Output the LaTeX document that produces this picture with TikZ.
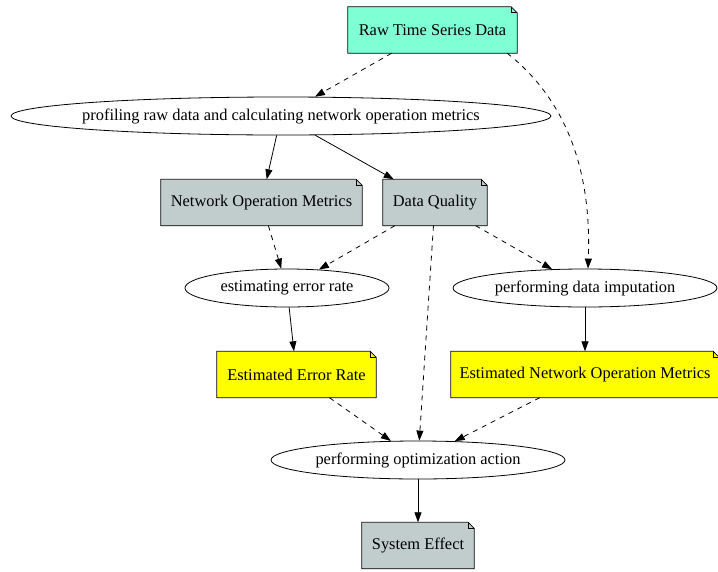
\documentclass[tikz,border=0pt]{standalone}
\usepackage{fontspec}
\setmainfont{Liberation Serif}
\usetikzlibrary{arrows.meta,shapes.geometric}
\definecolor{aqua}{HTML}{7FFFD4}
\definecolor{slate}{HTML}{C1CDCD}
\definecolor{yel}{HTML}{FFFF00}
\newcommand{\ptext}[1]{\makebox[0pt]{#1}}
\begin{document}
\begin{tikzpicture}[x=1pt,y=-1pt,
  every node/.style={font=\fontsize{16.4}{19}\selectfont},
  notebox/.style={rectangle, inner xsep=2pt, minimum height=46pt, inner ysep=0pt},
  proc/.style={ellipse, draw, line width=0.8pt, minimum height=38pt, inner sep=0pt},
  edge/.style={line width=0.8pt, -{Triangle[length=10pt,width=7pt]}},
  dashedge/.style={edge, dash pattern=on 5pt off 5pt}]
\useasboundingbox (0,0) rectangle (718,571);

% document-style nodes (filled boxes with a folded corner)
\node[notebox, fill=aqua,  minimum width=169pt] (raw)  at (432.5,30)    {Raw Time Series Data};
\node[notebox, fill=slate, minimum width=201pt] (nom)  at (261.5,202.5) {Network Operation Metrics};
\node[notebox, fill=slate, minimum width=104pt] (dq)   at (435,202.5)   {Data Quality};
\node[notebox, fill=yel,   minimum width=159pt] (eer)  at (296.5,374.5) {Estimated Error Rate};
\node[notebox, fill=yel,   minimum width=268pt] (enom) at (585,374.5)   {Estimated Network Operation Metrics};
\node[notebox, fill=slate, minimum width=112pt] (se)   at (418,545.5)   {System Effect};

\foreach \n in {raw,nom,dq,eer,enom,se}{
  \fill[white] ([xshift=-6pt]\n.north east) -- (\n.north east) -- ([yshift=-6pt]\n.north east) -- cycle;
  \draw[line width=0.8pt] (\n.north west) -- ([xshift=-6pt]\n.north east) -- ([yshift=-6pt]\n.north east)
        -- (\n.south east) -- (\n.south west) -- cycle;
  \draw[line width=0.8pt] ([xshift=-6pt]\n.north east) |- ([yshift=-6pt]\n.north east);
}

% process nodes
\node[proc, minimum width=540pt] (prof) at (281,116) {\ptext{profiling raw data and calculating network operation metrics}};
\node[proc, minimum width=204pt] (est)  at (287,288) {\ptext{estimating error rate}};
\node[proc, minimum width=264pt] (imp)  at (585,288) {\ptext{performing data imputation}};
\node[proc, minimum width=294pt] (opt)  at (418,460) {\ptext{performing optimization action}};

% connectors
\draw[dashedge] (raw) -- (prof);
\draw[dashedge] ([xshift=-10pt]raw.south east) .. controls (560,95) and (592,160) .. ([xshift=3pt]imp.north);
\draw[edge] (prof) -- (nom);
\draw[edge] (prof) -- (dq);
\draw[dashedge] (nom) -- (est);
\draw[dashedge] (dq) -- (est);
\draw[dashedge] (dq) -- (opt);
\draw[dashedge] (dq) -- (imp);
\draw[edge] (est) -- (eer);
\draw[edge] (imp) -- (enom);
\draw[dashedge] (eer) -- (opt);
\draw[dashedge] (enom) -- (opt);
\draw[edge] (opt) -- (se);
\end{tikzpicture}
\end{document}
